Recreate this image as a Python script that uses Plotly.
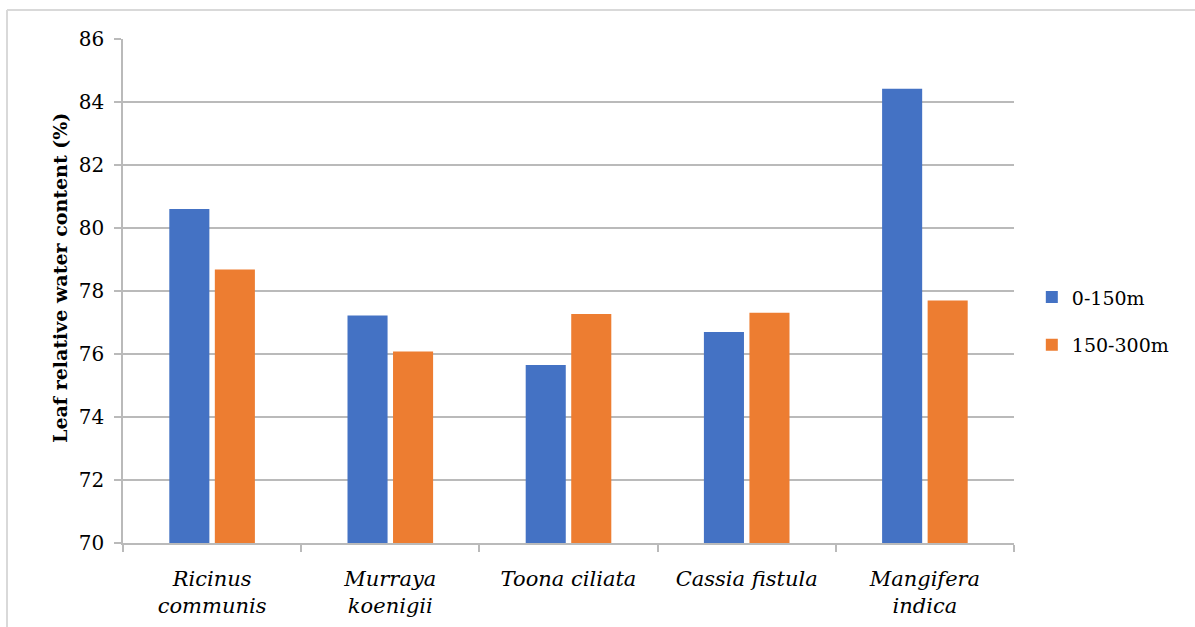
import plotly.graph_objects as go

# Leaf relative water content by species and altitude band
species = [
    "<i>Ricinus</i><br><i>communis</i>",
    "<i>Murraya</i><br><i>koenigii</i>",
    "<i>Toona ciliata</i>",
    "<i>Cassia fistula</i>",
    "<i>Mangifera</i><br><i>indica</i>",
]
rwc_0_150 = [80.6, 77.22, 75.65, 76.7, 84.42]
rwc_150_300 = [78.68, 76.08, 77.27, 77.31, 77.7]

FONT = "DejaVu Serif"
BLUE = "#4472C4"
ORANGE = "#ED7D31"
GRID = "#bababa"

fig = go.Figure()
fig.add_trace(go.Bar(x=species, y=rwc_0_150, name="0-150m",
                     marker=dict(color=BLUE, line=dict(width=0)),
                     legendgroup="a"))
fig.add_trace(go.Bar(x=species, y=rwc_150_300, name="150-300m",
                     marker=dict(color=ORANGE, line=dict(width=0)),
                     legendgroup="b"))

fig.update_layout(
    width=1195, height=627,
    margin=dict(l=123, r=181, t=39, b=84, autoexpand=False),
    paper_bgcolor="white", plot_bgcolor="white",
    font=dict(family=FONT, color="black", size=19),
    barmode="group", bargap=0.489, bargroupgap=0.12,
    legend=dict(x=1.02, xanchor="left", y=0.44, yanchor="middle",
                font=dict(size=19, family=FONT), tracegroupgap=20,
                bgcolor="rgba(0,0,0,0)"),
    showlegend=True,
)

fig.update_xaxes(
    automargin=False, tickangle=0, ticklabelstandoff=16,
    showline=True, linecolor=GRID, linewidth=1.5,
    ticks="outside", tickson="boundaries", ticklen=7,
    tickcolor=GRID, tickwidth=1.5,
    tickfont=dict(size=21, family=FONT),
    showgrid=False,
)
fig.update_yaxes(
    automargin=False, ticklabelstandoff=6,
    range=[70, 86], dtick=2,
    showline=True, linecolor=GRID, linewidth=1.5,
    ticks="outside", ticklen=7, tickcolor=GRID, tickwidth=1.5,
    showgrid=True, gridcolor=GRID, gridwidth=1.5,
    tickfont=dict(size=20, family=FONT),
)

# rotated y-axis title
fig.add_annotation(
    text="<b>Leaf relative water content (%)</b>",
    xref="paper", yref="paper", x=-0.0707, y=0.526,
    xanchor="center", yanchor="middle", textangle=-90,
    showarrow=False, font=dict(size=19, family=FONT),
)

# light frame edges (left and top) around the chart
fig.add_shape(type="line", xref="paper", yref="paper",
              x0=-0.1302, x1=-0.1302, y0=1.0575, y1=-0.2,
              line=dict(color="#d9d9d9", width=2), layer="below")
fig.add_shape(type="line", xref="paper", yref="paper",
              x0=-0.1302, x1=1.25, y0=1.0575, y1=1.0575,
              line=dict(color="#d9d9d9", width=2), layer="below")

fig.write_html("out.html")
